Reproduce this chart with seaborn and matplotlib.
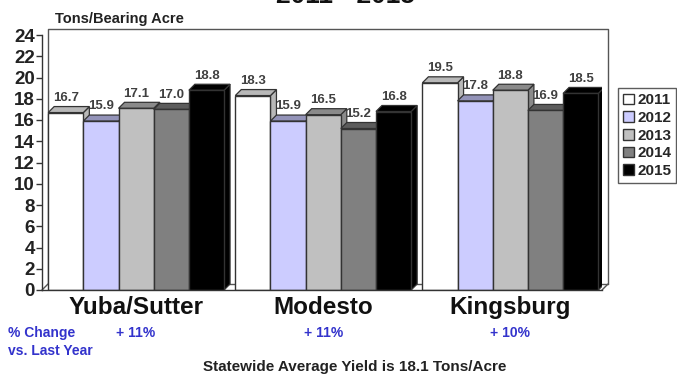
import numpy as np
import pandas as pd
import matplotlib
matplotlib.use("Agg")
import matplotlib.pyplot as plt
import seaborn as sns
from matplotlib.patches import Polygon
from matplotlib.lines import Line2D
import matplotlib.transforms as mtransforms
import matplotlib.colors as mcolors

# ---- data ----
districts = ["Yuba/Sutter", "Modesto", "Kingsburg"]
years = ["2011", "2012", "2013", "2014", "2015"]
y2011 = [16.7, 18.3, 19.5]
y2012 = [15.9, 15.9, 17.8]
y2013 = [17.1, 16.5, 18.8]
y2014 = [17.0, 15.2, 16.9]
y2015 = [18.8, 16.8, 18.5]
pct_change = ["+ 11%", "+ 11%", "+ 10%"]
yticks = list(range(0, 25, 2))
title_text = "2011 - 2015"
ylabel_text = "Tons/Bearing Acre"
footer_text = "Statewide Average Yield is 18.1 Tons/Acre"
change_label = "% Change\nvs. Last Year"

colors = ["#ffffff", "#ccccff", "#c0c0c0", "#808080", "#000000"]

rows = []
for yr, vals in zip(years, [y2011, y2012, y2013, y2014, y2015]):
    for d, v in zip(districts, vals):
        rows.append({"District": d, "Year": yr, "Yield": v})
df = pd.DataFrame(rows)

sns.set_theme(style="white")
plt.rcParams["font.family"] = ["Liberation Sans", "DejaVu Sans"]
plt.rcParams["font.weight"] = "bold"

W, H = 677, 379
fig = plt.figure(figsize=(W / 100, H / 100), dpi=100)
L, R, B, T = 42, 602, 290, 35
ax = fig.add_axes([L / W, 1 - B / H, (R - L) / W, (B - T) / H])

sns.barplot(data=df, x="District", y="Yield", hue="Year", palette=colors,
            width=0.94, edgecolor="#333333", linewidth=1.0, ax=ax,
            legend=True, saturation=1)
ax.set_ylim(0, 24)
ax.set_xlim(-0.503, 2.49)

# 3D depth in pixels -> data
px_x = (2.49 + 0.503) / (R - L)
px_y = 24 / (B - T)
dx, dy = 6 * px_x, 6 * px_y

bars = sorted([p for p in ax.patches if p.get_height() > 0], key=lambda p: p.get_x())
for i, p in enumerate(bars):
    x, w, h = p.get_x(), p.get_width(), p.get_height()
    fc = np.array(mcolors.to_rgb(p.get_facecolor()))
    shade = tuple(fc * 0.72)
    z = 2 + i * 0.01
    side = Polygon([(x + w, 0), (x + w + dx, dy), (x + w + dx, h + dy), (x + w, h)],
                   closed=True, facecolor=shade, edgecolor="#333333", lw=0.9, zorder=z)
    top = Polygon([(x, h), (x + dx, h + dy), (x + w + dx, h + dy), (x + w, h)],
                  closed=True, facecolor=shade, edgecolor="#333333", lw=0.9, zorder=z + 0.001)
    ax.add_patch(side)
    ax.add_patch(top)
    p.set_zorder(z + 0.005)
    ax.text(x + w / 2, h + dy + 0.25, f"{h:.1f}", ha="center", va="bottom",
            fontsize=9.5, fontweight="bold", color="#404040", zorder=10)

# back wall
ox, oy = 6 / (R - L), 6 / (B - T)
wall = dict(transform=ax.transAxes, color="#555555", lw=1.0, clip_on=False, zorder=0.5)
ax.add_line(Line2D([ox, ox, 1 + ox, 1 + ox], [oy, 1 + oy, 1 + oy, oy], **wall))
ax.add_line(Line2D([0, ox], [0, oy], **wall))
ax.add_line(Line2D([1, 1 + ox], [0, oy], **wall))
ax.add_line(Line2D([ox, 1 + ox], [oy, oy], **wall))

for s in ["top", "right"]:
    ax.spines[s].set_visible(False)
for s in ["left", "bottom"]:
    ax.spines[s].set_color("#333333")
    ax.spines[s].set_linewidth(1.0)

ax.set_yticks(yticks)
ax.set_yticklabels([str(t) for t in yticks], fontsize=13.5, fontweight="bold", color="#222222")
ax.tick_params(axis="y", left=True, length=4, width=1, color="#333333", pad=1)
ax.tick_params(axis="x", bottom=False, length=0, pad=4)
ax.set_xticks(range(len(districts)))
ax.set_xticklabels(districts, fontsize=17.5, fontweight="bold", color="#111111")
ax.set_xlabel("")
ax.set_ylabel("")

# legend
handles, labels = ax.get_legend_handles_labels()
ax.legend_.remove()
leg = fig.legend(handles, labels, loc="upper left", bbox_to_anchor=(618 / W, 1 - 88 / H),
                 frameon=True, handlelength=0.7, handleheight=0.7,
                 handletextpad=0.2, labelspacing=0.24, borderpad=0.35, borderaxespad=0,
                 fancybox=False, prop={"weight": "bold", "size": 11})
leg.get_frame().set_edgecolor("#333333")
leg.get_frame().set_linewidth(1.0)

# texts
fig.text(55 / W, 1 - 19 / H, ylabel_text, ha="left", va="center", fontsize=10.5,
         fontweight="bold", color="#222222")
fig.text(345 / W, 1 - 3 / H, title_text, ha="center", va="baseline", fontsize=19,
         fontweight="bold", color="#111111")
blue = "#3333cc"
fig.text(8 / W, 1 - 342 / H, change_label, ha="left", va="center", fontsize=10,
         fontweight="bold", color=blue, linespacing=1.45)
trans = mtransforms.blended_transform_factory(ax.transData, fig.transFigure)
for i, t in enumerate(pct_change):
    fig.text(i, 1 - 333 / H, t, ha="center", va="center", fontsize=10,
             fontweight="bold", color=blue, transform=trans)
fig.text(355 / W, 1 - 367 / H, footer_text, ha="center", va="center", fontsize=11,
         fontweight="bold", color="#222222")

fig.savefig("out.png", dpi=100)
